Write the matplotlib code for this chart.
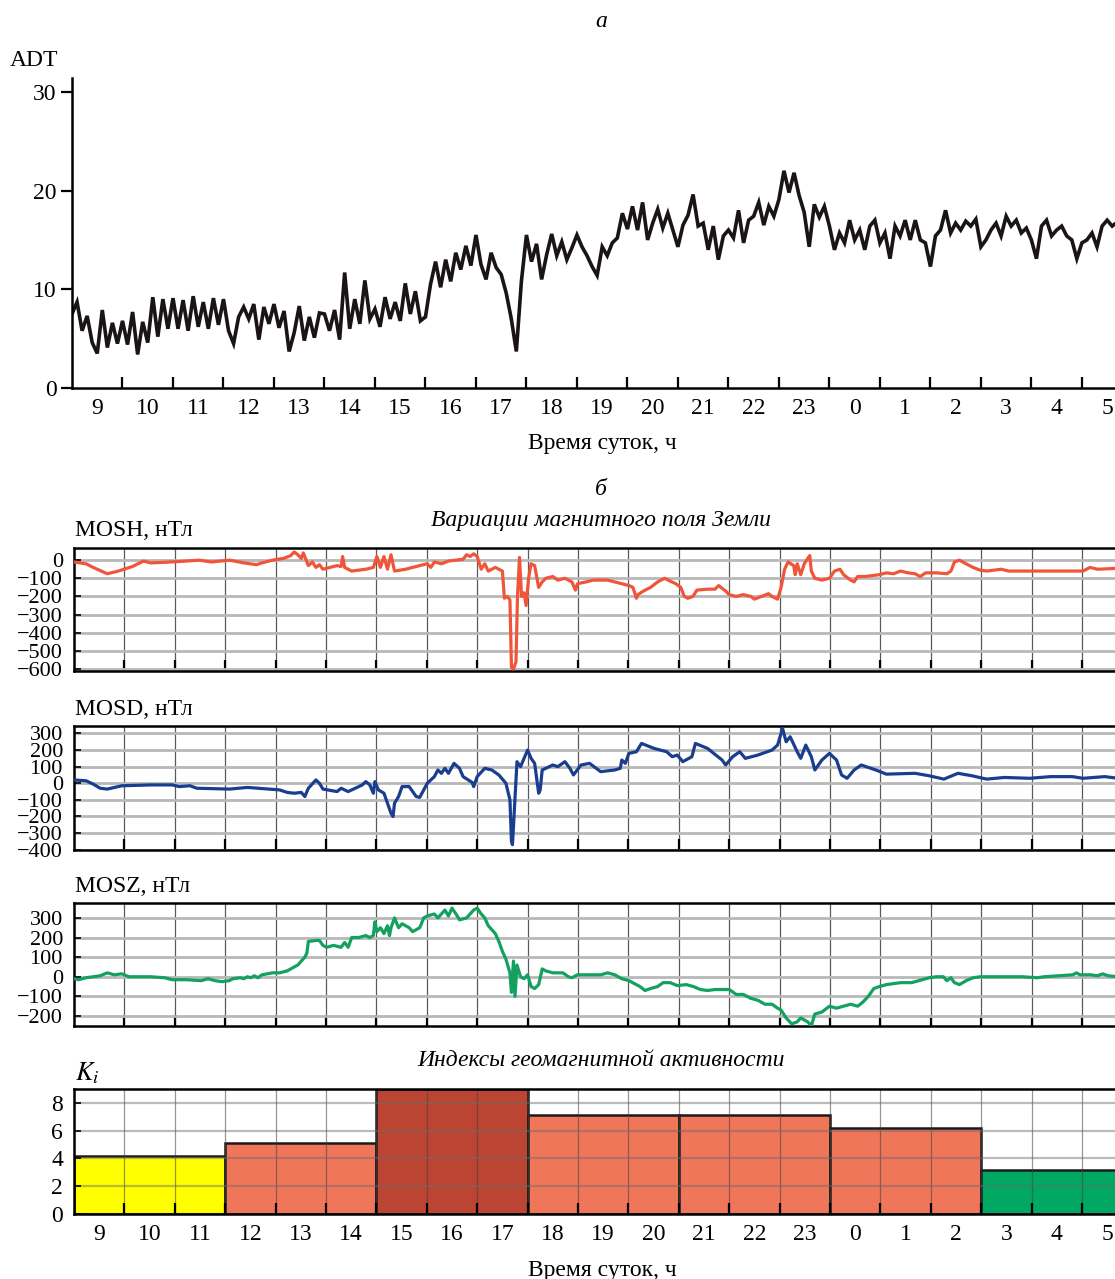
import numpy as np
import matplotlib.pyplot as plt

plt.rcParams['font.family'] = ['Liberation Serif', 'DejaVu Serif']
plt.rcParams['font.size'] = 17
plt.rcParams['mathtext.fontset'] = 'stix'

# hour labels (local time, 9h .. 5h next day), one per hourly interval
hour_labels = ['9', '10', '11', '12', '13', '14', '15', '16', '17', '18', '19',
               '20', '21', '22', '23', '0', '1', '2', '3', '4', '5']

# ADT, sampled every 0.1 h starting at 9:00
adt_values = [
    7.5, 8.7, 5.8, 7.3, 4.6, 3.5, 7.9, 4.1, 6.6, 4.5,
    6.8, 4.4, 7.7, 3.4, 6.7, 4.6, 9.2, 5.2, 9.0, 6.0,
    9.1, 6.0, 8.9, 5.8, 9.3, 6.2, 8.7, 6.0, 9.1, 6.4,
    9.0, 5.8, 4.5, 7.2, 8.2, 7.0, 8.5, 4.9, 8.2, 6.5,
    8.5, 6.1, 7.8, 3.7, 5.6, 8.3, 4.8, 7.2, 5.1, 7.6,
    7.5, 5.8, 7.9, 4.9, 11.7, 6.0, 9.0, 6.5, 10.9, 7.0,
    8.0, 6.2, 9.2, 7.0, 8.7, 6.8, 10.6, 7.5, 9.8, 6.8,
    7.2, 10.5, 12.8, 10.2, 13.0, 10.8, 13.7, 12.0, 14.4, 12.4,
    15.5, 12.5, 11.0, 13.7, 12.2, 11.5, 9.6, 7.0, 3.7, 10.8,
    15.5, 12.8, 14.6, 11.0, 13.5, 15.6, 13.4, 14.8, 13.0, 14.2,
    15.5, 14.3, 13.4, 12.3, 11.4, 14.3, 13.4, 14.7, 15.2, 17.7,
    16.1, 18.4, 16.0, 18.8, 15.0, 16.7, 18.1, 16.2, 17.7, 16.0,
    14.3, 16.5, 17.5, 19.6, 16.4, 16.7, 14.0, 16.4, 13.0, 15.4,
    16.0, 15.2, 18.0, 14.7, 17.0, 17.4, 18.8, 16.5, 18.4, 17.4,
    19.1, 22.0, 19.8, 21.8, 19.5, 17.8, 14.3, 18.6, 17.3, 18.4,
    16.4, 14.0, 15.7, 14.7, 17.0, 15.0, 16.0, 14.0, 16.4, 17.0,
    14.7, 15.7, 13.1, 16.4, 15.4, 17.0, 15.0, 17.0, 15.0, 14.7,
    12.3, 15.4, 16.0, 18.0, 15.7, 16.7, 16.0, 16.9, 16.4, 17.1,
    14.3, 15.0, 16.0, 16.7, 15.4, 17.4, 16.4, 17.0, 15.7, 16.2,
    15.0, 13.1, 16.4, 17.0, 15.4, 16.0, 16.4, 15.4, 15.0, 13.1,
    14.7, 15.0, 15.7, 14.3, 16.4, 17.0, 16.4, 16.8,
]

# magnetic field variations, nT (time in hours since 9:00)
mosh_t = [0, 0.24, 0.38, 0.66, 0.88, 1.16, 1.38, 1.52, 1.8, 2.23, 2.48, 2.73,
          3.09, 3.37, 3.62, 3.73, 3.94, 4.16, 4.3, 4.37, 4.44, 4.51, 4.55, 4.62,
          4.65, 4.73, 4.8, 4.87, 4.94, 5.08, 5.22, 5.3, 5.33, 5.37, 5.51, 5.79,
          5.94, 6.01, 6.08, 6.15, 6.22, 6.29, 6.36, 6.58, 6.86, 7.01, 7.08, 7.15,
          7.29, 7.43, 7.58, 7.72, 7.79, 7.86, 7.93, 8.0, 8.08, 8.15, 8.22, 8.36,
          8.5, 8.54, 8.6, 8.65, 8.68, 8.72, 8.77, 8.8, 8.84, 8.88, 8.93, 8.97,
          9.02, 9.07, 9.14, 9.22, 9.29, 9.36, 9.5, 9.6, 9.74, 9.88, 9.95, 9.99,
          10.16, 10.3, 10.59, 10.73, 10.87, 11.01, 11.09, 11.16, 11.19, 11.3,
          11.44, 11.58, 11.72, 11.79, 11.94, 12.04, 12.11, 12.18, 12.28, 12.36,
          12.57, 12.72, 12.79, 12.93, 13.0, 13.14, 13.28, 13.43, 13.5, 13.64,
          13.78, 13.85, 13.96, 14.03, 14.1, 14.17, 14.28, 14.31, 14.35, 14.42,
          14.49, 14.56, 14.6, 14.63, 14.7, 14.84, 14.99, 15.09, 15.2, 15.27,
          15.41, 15.48, 15.55, 15.7, 15.84, 15.98, 16.12, 16.26, 16.4, 16.55,
          16.69, 16.79, 16.9, 17.11, 17.32, 17.4, 17.47, 17.57, 17.7, 17.84,
          17.98, 18.11, 18.26, 18.4, 18.54, 19.2, 20.02, 20.16, 20.31, 20.72]
mosh_v = [-10, -20, -40, -75, -60, -35, -5, -15, -12, -5, 0, -10,
          0, -15, -25, -15, 0, 10, 25, 45, 30, 10, 40, -10,
          -30, -10, -40, -25, -50, -40, -30, -35, 20, -40, -60, -50,
          -40, 20, -40, 20, -50, 30, -60, -50, -30, -20, -40, -10,
          -20, -5, 0, 5, 30, 20, 35, 20, -50, -20, -60, -40,
          -60, -210, -200, -220, -590, -600, -560, -200, 15, -200, -180, -250,
          -100, -20, -30, -150, -120, -100, -90, -110, -100, -120, -165, -130,
          -120, -110, -110, -120, -130, -140, -150, -210, -190, -170,
          -150, -120, -100, -110, -130, -150, -200, -210, -200, -165,
          -160, -160, -140, -170, -190, -200, -190, -200, -215, -200,
          -185, -200, -215, -150, -50, -10, -30, -80, -20, -80,
          -20, 10, 25, -60, -100, -110, -100, -60, -50, -80,
          -110, -120, -90, -90, -85, -80, -70, -75, -60, -70,
          -75, -90, -70, -70, -75, -60, -10, 0, -20, -40,
          -55, -60, -55, -50, -60, -60, -60, -40, -50, -45]

mosd_t = [0, 0.24, 0.38, 0.52, 0.66, 0.95, 1.52, 1.95, 2.09, 2.3, 2.44, 3.09,
          3.44, 3.66, 4.08, 4.23, 4.37, 4.51, 4.58, 4.65, 4.8, 4.87, 4.94, 5.22,
          5.3, 5.44, 5.58, 5.72, 5.79, 5.87, 5.94, 5.97, 6.04, 6.15, 6.22, 6.29,
          6.33, 6.36, 6.44, 6.51, 6.65, 6.79, 6.86, 6.94, 7.01, 7.15, 7.22, 7.29,
          7.36, 7.43, 7.54, 7.65, 7.72, 7.9, 7.93, 8.0, 8.15, 8.29, 8.43, 8.57,
          8.65, 8.68, 8.7, 8.73, 8.79, 8.86, 8.93, 9.0, 9.07, 9.14, 9.22, 9.25,
          9.29, 9.5, 9.6, 9.74, 9.84, 9.91, 10.06, 10.23, 10.45, 10.73, 10.84,
          10.87, 10.94, 11.01, 11.16, 11.26, 11.51, 11.76, 11.87, 11.97, 12.08,
          12.26, 12.33, 12.57, 12.86, 12.93, 13.07, 13.21, 13.32, 13.57, 13.85,
          13.96, 14.03, 14.06, 14.13, 14.21, 14.35, 14.42, 14.52, 14.63, 14.7,
          14.84, 14.99, 15.13, 15.23, 15.34, 15.48, 15.62, 15.91, 16.12, 16.69,
          16.97, 17.26, 17.54, 17.82, 18.11, 18.46, 18.96, 19.38, 19.81, 20.02,
          20.45, 20.72]
mosd_v = [20, 15, -5, -30, -35, -15, -10, -10, -20, -15, -30, -35,
          -25, -30, -40, -55, -60, -55, -80, -30, 20, 0, -35, -50,
          -30, -50, -30, -10, 10, -10, -60, 10, -40, -60, -120, -180,
          -200, -120, -80, -20, -20, -80, -85, -40, 0, 40, 80, 60,
          90, 60, 120, 90, 40, 5, -20, 40, 90, 80, 50, 0,
          -100, -350, -370, -200, 130, 100, 150, 200, 150, 120, -60, -40,
          80, 110, 100, 130, 90, 50, 110, 120, 70, 80, 90,
          140, 120, 180, 190, 240, 210, 190, 160, 170, 130,
          160, 240, 210, 140, 110, 160, 190, 150, 170, 200,
          230, 300, 330, 250, 280, 190, 150, 230, 160, 80,
          140, 180, 140, 50, 30, 80, 110, 80, 55, 60,
          45, 25, 60, 45, 25, 35, 30, 40, 40, 30,
          40, 30]

mosz_t = [0, 0.09, 0.24, 0.38, 0.52, 0.66, 0.8, 0.95, 1.09, 1.52, 1.8, 1.95,
          2.23, 2.52, 2.66, 2.8, 2.94, 3.08, 3.15, 3.3, 3.37, 3.44, 3.51, 3.58,
          3.65, 3.73, 3.94, 4.08, 4.23, 4.3, 4.44, 4.51, 4.58, 4.62, 4.65, 4.8,
          4.87, 4.94, 5.01, 5.15, 5.3, 5.37, 5.44, 5.51, 5.65, 5.79, 5.87, 5.94,
          5.97, 6.01, 6.08, 6.15, 6.22, 6.26, 6.29, 6.36, 6.44, 6.51, 6.65, 6.72,
          6.86, 6.94, 7.01, 7.15, 7.22, 7.36, 7.43, 7.5, 7.58, 7.65, 7.79, 7.93,
          8.0, 8.08, 8.15, 8.22, 8.36, 8.43, 8.5, 8.57, 8.65, 8.68, 8.72, 8.75,
          8.79, 8.86, 8.93, 9.0, 9.07, 9.14, 9.22, 9.29, 9.36, 9.5, 9.6, 9.7,
          9.81, 9.88, 9.99, 10.16, 10.45, 10.59, 10.73, 10.87, 11.01, 11.23,
          11.33, 11.44, 11.58, 11.69, 11.83, 11.97, 12.15, 12.29, 12.43, 12.57,
          12.72, 13.0, 13.14, 13.28, 13.43, 13.57, 13.71, 13.85, 13.96, 14.03,
          14.13, 14.24, 14.35, 14.42, 14.49, 14.56, 14.63, 14.7, 14.84, 14.99,
          15.13, 15.27, 15.41, 15.55, 15.65, 15.76, 15.87, 15.98, 16.12, 16.4,
          16.62, 16.76, 16.97, 17.11, 17.25, 17.32, 17.4, 17.47, 17.57, 17.7,
          17.84, 17.98, 18.82, 19.11, 19.25, 19.82, 19.89, 19.96, 20.17, 20.31,
          20.41, 20.52, 20.72]
mosz_v = [-10, -15, -5, 0, 5, 20, 10, 15, 0, 0, -5, -15,
          -15, -20, -10, -20, -25, -20, -10, -5, -10, 0, -5, 5,
          -5, 10, 20, 20, 30, 40, 60, 80, 100, 120, 180, 185,
          185, 160, 150, 160, 150, 175, 150, 200, 200, 210, 200, 210,
          280, 230, 250, 220, 260, 210, 250, 300, 250, 270, 250, 230,
          250, 300, 310, 320, 300, 340, 310, 350, 320, 290, 300, 340,
          350, 320, 300, 260, 220, 180, 130, 90, 20, -80, 80, -100,
          60, 0, -10, 10, -50, -60, -40, 40, 30, 20, 20, 20,
          0, -5, 10, 10, 10, 20, 10, -10, -20, -50,
          -70, -60, -50, -30, -30, -45, -40, -50, -65, -70,
          -65, -65, -90, -90, -110, -120, -140, -140, -160, -170,
          -210, -240, -230, -210, -220, -230, -250, -190, -180, -150,
          -160, -150, -140, -150, -130, -100, -60, -50, -40, -30,
          -30, -20, -5, 0, 0, -20, -5, -30, -40, -20,
          -5, 0, 0, -5, 0, 10, 20, 10, 10, 5,
          15, 5, 0]

# geomagnetic activity index Ki, 3-hour intervals
ki_start = [0, 3, 6, 9, 12, 15, 18]
ki_values = [4.2, 5.1, 9.0, 7.1, 7.1, 6.2, 3.2]
ki_colors = ['#ffff00', '#ef7659', '#bc4433', '#ef7659', '#ef7659', '#ef7659', '#00a862']

XMAX = 20.7
bounds = np.arange(1, 21)
centers = np.arange(21) + 0.5

fig = plt.figure(figsize=(11.15, 12.79), dpi=100)


def px(x0, y_top, y_bot):
    # axes rectangle from pixel coordinates, extending to the right edge
    W, H = 1115.0, 1279.0
    return [x0 / W, 1 - y_bot / H, 1 - x0 / W + 0.002, (y_bot - y_top) / H]


# ---- panel a: ADT ----
ax = fig.add_axes(px(72, 78, 388))
t = np.arange(len(adt_values)) * 0.1
ax.plot(t, adt_values, color='#1a1414', lw=2.6, solid_joinstyle='miter')
ax.set_xlim(0, XMAX)
ax.set_ylim(0, 31.4)
for s in ['top', 'right']:
    ax.spines[s].set_visible(False)
for s in ['left', 'bottom']:
    ax.spines[s].set_linewidth(1.8)
ax.set_yticks([0, 10, 20, 30])
ax.tick_params(axis='y', direction='out', length=8, width=1.6, pad=3)
ax.set_xticks(bounds)
ax.set_xticklabels([])
ax.tick_params(axis='x', which='major', direction='in', length=8, width=1.6)
ax.set_xticks(centers, hour_labels, minor=True)
ax.tick_params(axis='x', which='minor', length=0, pad=7)
fig.text(0.009, 0.953, 'ADT', ha='left', va='center')
fig.text(0.539, 0.983, 'а', ha='center', va='center', style='italic')
fig.text(0.54, 0.6536, 'Время суток, ч', ha='center', va='center')


def mag_panel(rect, tt, vv, color, ylim, yticks, label, label_y):
    a = fig.add_axes(rect)
    a.plot(tt, vv, color=color, lw=2.3, zorder=3)
    a.set_xlim(0, XMAX)
    a.set_ylim(*ylim)
    a.spines['right'].set_visible(False)
    for s in ['top', 'left', 'bottom']:
        a.spines[s].set_linewidth(1.8)
    a.set_xticks(bounds)
    a.set_xticklabels([])
    a.tick_params(axis='x', direction='in', length=8, width=1.6)
    a.set_yticks(yticks)
    a.tick_params(axis='y', direction='in', length=5, width=1.2, pad=8,
                  labelsize=16)
    a.xaxis.grid(True, color='#5a5a5a', lw=0.9)
    a.yaxis.grid(True, color='#b8b8b8', lw=2.0)
    a.set_axisbelow(True)
    fig.text(0.067, label_y, label, ha='left', va='center')
    return a


fig.text(0.539, 0.617, 'б', ha='center', va='center', style='italic')
fig.text(0.539, 0.5934, 'Вариации магнитного поля Земли', ha='center', va='center',
         style='italic')

mag_panel(px(74, 548, 671), mosh_t, mosh_v, '#f0553a', (-611, 67),
          np.arange(-600, 1, 100), 'MOSH, нТл', 0.5856)
mag_panel(px(74, 726, 850), mosd_t, mosd_v, '#1a3e8f', (-402, 345),
          np.arange(-400, 301, 100), 'MOSD, нТл', 0.4449)
mag_panel(px(74, 903, 1026), mosz_t, mosz_v, '#13a160', (-251, 376),
          np.arange(-200, 301, 100), 'MOSZ, нТл', 0.3065)

# ---- Ki ----
ak = fig.add_axes(px(74, 1089, 1214))
ak.bar(ki_start, ki_values, width=3, align='edge', color=ki_colors,
       edgecolor='#1a1a1a', linewidth=1.8, zorder=2)
ak.set_axisbelow(False)
ak.set_xlim(0, XMAX)
ak.set_ylim(0, 9)
ak.spines['right'].set_visible(False)
for s in ['top', 'left', 'bottom']:
    ak.spines[s].set_linewidth(1.8)
    ak.spines[s].set_zorder(4)
ak.set_yticks([0, 2, 4, 6, 8])
ak.tick_params(axis='y', direction='in', length=5, width=1.2, pad=8)
ak.set_xticks(bounds)
ak.set_xticklabels([])
ak.tick_params(axis='x', which='major', direction='in', length=8, width=1.6)
ak.set_xticks(centers, hour_labels, minor=True)
ak.tick_params(axis='x', which='minor', length=0, pad=7)
ak.xaxis.grid(True, which='major', color='#404040', lw=0.9, alpha=0.55)
ak.yaxis.grid(True, color='#6a6a6a', lw=1.6, alpha=0.45)
fig.text(0.539, 0.1712, 'Индексы геомагнитной активности', ha='center', va='center',
         style='italic')
fig.text(0.067, 0.161, '$K_i$', ha='left', va='center', fontsize=19)
fig.text(0.54, 0.007, 'Время суток, ч', ha='center', va='center')

fig.savefig('out.png', dpi=100)
